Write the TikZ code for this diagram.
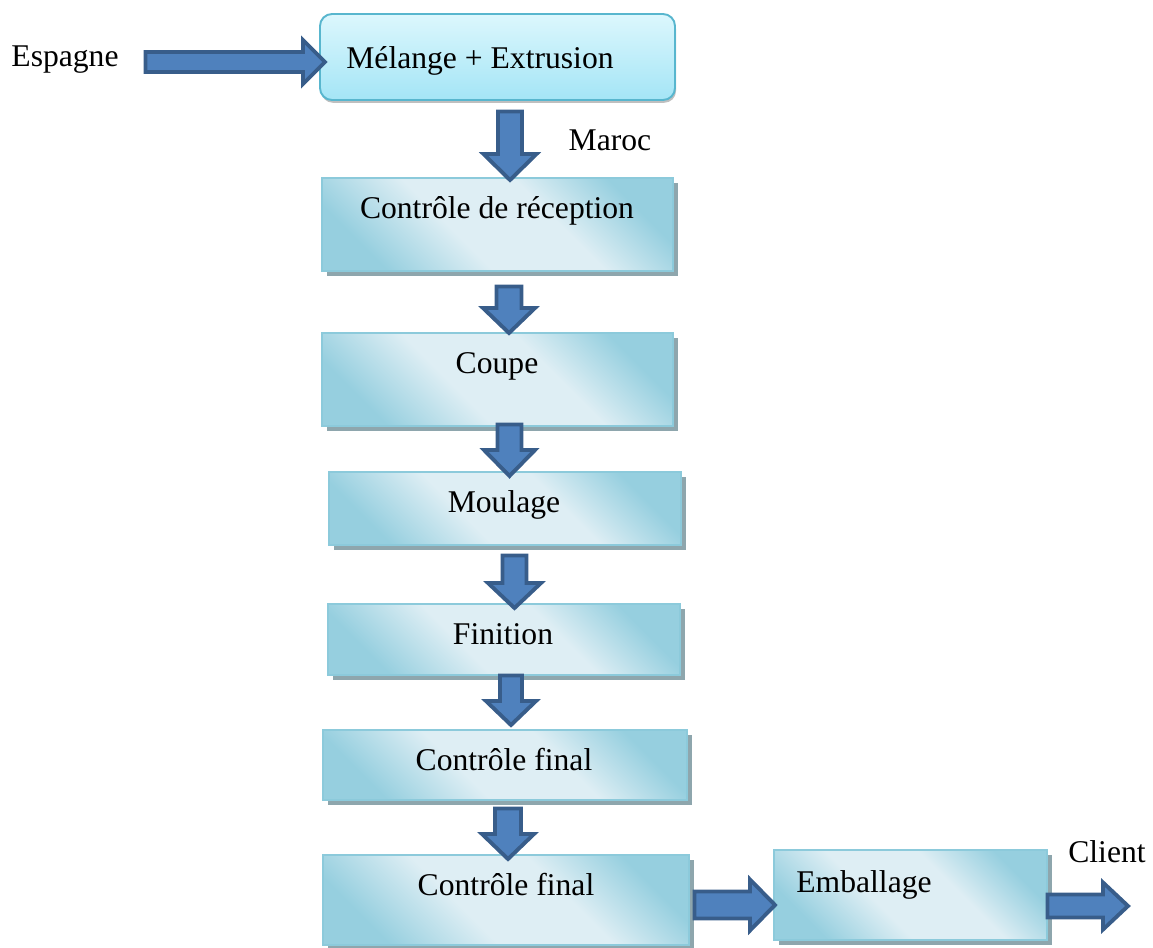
\documentclass[tikz,border=0pt]{standalone}
\usepackage{fontspec}
\setmainfont{Liberation Serif}
\usetikzlibrary{calc,shadows}
\definecolor{boxlight}{HTML}{DEEEF4}
\definecolor{boxcyan}{HTML}{96CFDF}
\definecolor{boxedge}{HTML}{8CCADB}
\definecolor{boxshadow}{HTML}{8EA6AD}
\definecolor{topA}{HTML}{DCF7FD}
\definecolor{topB}{HTML}{A4E5F6}
\definecolor{topedge}{HTML}{58B6CE}
\definecolor{arrfill}{HTML}{4F81BD}
\definecolor{arredge}{HTML}{385D8A}
\pgfdeclarehorizontalshading{boxshade}{100bp}{color(0bp)=(boxcyan); color(25bp)=(boxcyan); color(42bp)=(boxlight); color(60bp)=(boxlight); color(75bp)=(boxcyan); color(100bp)=(boxcyan)}
\tikzset{
  stepbox/.style={rectangle, inner sep=0pt, outer sep=0pt, draw=boxedge, line width=1.2pt,
    shading=boxshade, shading angle=45,
    drop shadow={shadow xshift=2.6pt, shadow yshift=-2.6pt, fill=boxshadow, opacity=1}},
  topbox/.style={rectangle, rounded corners=0.24cm, inner sep=0pt, outer sep=0pt, draw=topedge, line width=1.1pt,
    top color=topA, bottom color=topB,
    drop shadow={shadow xshift=0.6pt, shadow yshift=-1.6pt, fill=black, opacity=0.25}},
  lbl/.style={inner sep=0pt, outer sep=0pt, anchor=base, font=\fontsize{18}{22}\selectfont},
  blk/.style={fill=arrfill, draw=arredge, line width=2.2pt, line join=miter}
}
\newcommand\boxat[6]{%
  \node[#6, minimum width={(#4-#2)*0.02cm}, minimum height={(#5-#3)*0.02cm}] (#1) at ({(#2+#4)/2},{(#3+#5)/2}) {};}
\newcommand\dnarrow[5]{%
  \draw[blk] ($(#1)+(-#3,0)$) -- ($(#2)+(-#3,-#5)$) -- ($(#2)+(-#4,-#5)$) -- (#2) -- ($(#2)+(#4,-#5)$) -- ($(#2)+(#3,-#5)$) -- ($(#1)+(#3,0)$) -- cycle;}
\newcommand\rtarrow[5]{%
  \draw[blk] ($(#1)+(0,-#3)$) -- ($(#2)+(-#5,-#3)$) -- ($(#2)+(-#5,-#4)$) -- (#2) -- ($(#2)+(-#5,#4)$) -- ($(#2)+(-#5,#3)$) -- ($(#1)+(0,#3)$) -- cycle;}
\begin{document}
\begin{tikzpicture}[x=0.02cm, y=-0.02cm]
\useasboundingbox (0,0) rectangle (1153,947);
% boxes
\boxat{mel}{320}{14}{675}{100}{topbox}
\boxat{rec}{322}{178}{673}{271}{stepbox}
\boxat{cou}{322}{333}{673}{426}{stepbox}
\boxat{mou}{329}{472}{681}{545}{stepbox}
\boxat{fin}{328}{604}{680}{675}{stepbox}
\boxat{cfa}{323}{730}{687}{800}{stepbox}
\boxat{cfb}{323}{855}{689}{945}{stepbox}
\boxat{emb}{774}{850}{1047}{940}{stepbox}
% texts
\node[lbl] (esp) at (65,66) {Espagne};
\node[lbl] (tmel) at (480,68) {Mélange + Extrusion};
\node[lbl] (mar) at (610,150) {Maroc};
\node[lbl] (trec) at (497,218) {Contrôle de réception};
\node[lbl] (tcou) at (497,373) {Coupe};
\node[lbl] (tmou) at (504,512) {Moulage};
\node[lbl] (tfin) at (503,644) {Finition};
\node[lbl] (tcfa) at (504,770) {Contrôle final};
\node[lbl] (tcfb) at (506,895) {Contrôle final};
\node[lbl] (temb) at (864,892) {Emballage};
\node[lbl] (cli) at (1107,862) {Client};
% arrow end points
\coordinate (a0s) at (145.5,62);   \coordinate (a0e) at (325,62);
\coordinate (a1s) at (510,111.5);  \coordinate (a1e) at (510,180);
\coordinate (a2s) at (509,286.5);  \coordinate (a2e) at (509,333);
\coordinate (a3s) at (509.5,424.5);\coordinate (a3e) at (509.5,476);
\coordinate (a4s) at (514.5,555.5);\coordinate (a4e) at (514.5,608);
\coordinate (a5s) at (511,675.5);  \coordinate (a5e) at (511,725);
\coordinate (a6s) at (508,808.5);  \coordinate (a6e) at (508,859);
\coordinate (a7s) at (694.5,905);  \coordinate (a7e) at (775,905);
\coordinate (a8s) at (1047.5,906); \coordinate (a8e) at (1128,906);
% arrows
\rtarrow{a0s}{a0e}{10}{22}{22}
\dnarrow{a1s}{a1e}{12}{26.5}{26}
\dnarrow{a2s}{a2e}{12.5}{26}{25}
\dnarrow{a3s}{a3e}{12}{25.5}{26}
\dnarrow{a4s}{a4e}{12}{26.5}{25}
\dnarrow{a5s}{a5e}{11}{25}{24}
\dnarrow{a6s}{a6e}{13}{26}{25}
\rtarrow{a7s}{a7e}{13.5}{25.5}{25}
\rtarrow{a8s}{a8e}{11.5}{23.5}{25}
\end{tikzpicture}
\end{document}
